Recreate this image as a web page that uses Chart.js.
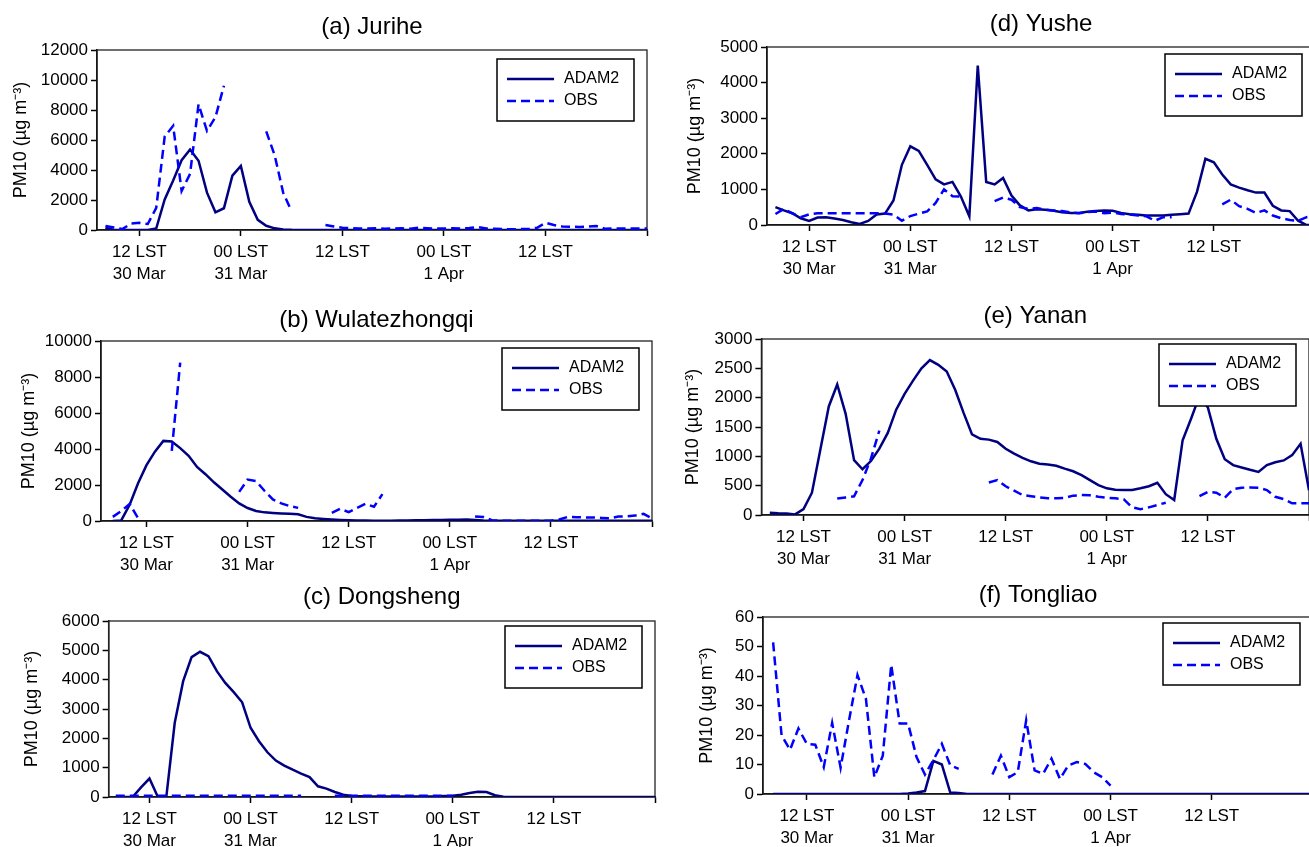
<!DOCTYPE html>
<html>
<head>
<meta charset="utf-8">
<title>PM10 ADAM2 vs OBS</title>
<script src="https://cdn.jsdelivr.net/npm/chart.js@4.4.1/dist/chart.umd.min.js"></script>
<style>
  html, body { margin: 0; padding: 0; background: #fff; overflow: hidden; }
  body { width: 1309px; height: 847px; position: relative; }
  .panel { position: absolute; }
</style>
</head>
<body>
<div class="panel" id="boxA"><canvas></canvas></div>
<div class="panel" id="boxB"><canvas></canvas></div>
<div class="panel" id="boxC"><canvas></canvas></div>
<div class="panel" id="boxD"><canvas></canvas></div>
<div class="panel" id="boxE"><canvas></canvas></div>
<div class="panel" id="boxF"><canvas></canvas></div>
<script>
// hours counted from 00 LST 30 Mar
const hours = [
  8, 9, 10, 11, 12, 13, 14, 15, 16, 17,
  18, 19, 20, 21, 22, 23, 24, 25, 26, 27,
  28, 29, 30, 31, 32, 33, 34, 35, 36, 37,
  38, 39, 40, 41, 42, 43, 44, 45, 46, 47,
  48, 49, 50, 51, 52, 53, 54, 55, 56, 57,
  58, 59, 60, 61, 62, 63, 64, 65, 66, 67,
  68, 69, 70, 71, 72
];
const xTicks = [12, 24, 36, 48, 60, 72];
const xTickLabels = [['12 LST', '30 Mar'], ['00 LST', '31 Mar'], '12 LST', ['00 LST', '1 Apr'], '12 LST', ''];

// (a) Jurihe
const jurihe_adam = [
  150, 0, 0, 0, 0, 0, 100, 2040, 3300, 4650,
  5370, 4620, 2490, 1180, 1450, 3620, 4270, 1880, 680, 280,
  110, 40, 10, 0, 0, 0, 0, 0, 0, 0,
  0, 0, 0, 0, 0, 0, 0, 0, 0, 0,
  0, 0, 0, 0, 0, 0, 0, 0, 0, 0,
  0, 0, 0, 0, 0, 0, 0, 0, 0, 0,
  0, 0, 0, 0, 0
];
const jurihe_obs = [
  270, 160, 60, 430, 480, 400, 1470, 6230, 6950, 2600,
  3740, 8380, 6610, 7520, 9620, null, null, null, null, 6570,
  4980, 2490, 1250, null, null, null, 340, 230, 150, 120,
  100, 100, 110, 90, 100, 110, 90, 150, 120, 100,
  100, 110, 100, 130, 200, 100, 80, 60, 50, 60,
  60, 150, 480, 330, 230, 220, 200, 220, 270, 90,
  100, 100, 100, 100, 100
];

// (b) Wulatezhongqi
const wula_adam = [
  0, 30, 900, 2100, 3100, 3850, 4450, 4420, 4050, 3620,
  3000, 2600, 2150, 1750, 1350, 980, 720, 560, 480, 450,
  420, 400, 370, 230, 150, 110, 80, 55, 40, 30,
  25, 20, 20, 20, 25, 30, 35, 40, 50, 60,
  70, 75, 80, 60, 30, 15, 10, 10, 10, 10,
  10, 10, 10, 10, 10, 10, 10, 10, 10, 10,
  10, 10, 10, 10, 10
];
const wula_obs = [
  230, 550, 950, 150, null, null, null, 3900, 8800, null,
  null, null, null, null, null, 1620, 2300, 2220, 1680, 1200,
  980, 830, 730, null, null, null, 450, 680, 490, 730,
  960, 790, 1490, null, null, null, null, null, null, null,
  null, null, null, 250, 220, 40, 20, 20, 20, 20,
  20, 20, 20, 80, 230, 210, 200, 200, 170, 150,
  250, 260, 300, 400, 140
];

// (c) Dongsheng
const dong_adam = [
  20, 0, 0, 330, 630, 0, 0, 2530, 3950, 4770,
  4950, 4800, 4290, 3890, 3575, 3230, 2360, 1900, 1525, 1240,
  1070, 930, 800, 680, 365, 285, 170, 80, 35, 25,
  20, 20, 20, 20, 20, 20, 20, 20, 20, 35,
  45, 80, 135, 180, 170, 60, 10, 0, 0, 0,
  0, 0, 0, 0, 0, 0, 0, 0, 0, 0,
  0, 0, 0, 0, 0
];
const dong_obs = [
  40, 40, 40, 40, 40, 40, 40, 40, 40, 40,
  40, 40, 40, 40, 40, 40, 40, 40, 40, 40,
  40, 40, 40, null, null, null, 40, 40, 40, 40,
  40, 40, 40, 40, 40, 40, 40, 40, 40, 40,
  40, null, null, null, null, null, null, null, null, null,
  null, null, null, null, null, null, null, null, null, null,
  null, null, null, null, null
];

// (d) Yushe
const yushe_adam = [
  500, 410, 330, 190, 115, 210, 220, 180, 140, 75,
  30, 115, 295, 320, 690, 1690, 2210, 2080, 1690, 1280,
  1140, 1210, 800, 245, 4480, 1210, 1140, 1320, 830, 550,
  410, 445, 425, 400, 360, 340, 340, 370, 390, 410,
  400, 340, 300, 285, 265, 265, 265, 285, 300, 320,
  930, 1860, 1760, 1420, 1140, 1050, 975, 910, 910, 540,
  410, 390, 120, 0, 0
];
const yushe_obs = [
  310, 450, 330, 220, 300, 330, 330, 330, 330, 330,
  330, 330, 330, 320, 290, 120, 250, 320, 380, 620,
  1000, 810, 800, null, null, null, 670, 770, 710, 500,
  455, 475, 435, 410, 390, 350, 330, 360, 380, 330,
  350, 310, 295, 265, 245, 120, 220, 220, null, null,
  null, null, null, 580, 710, 530, 455, 340, 410, 265,
  190, 140, 120, 220, 250
];

// (e) Yanan
const yanan_adam = [
  40, 30, 25, 10, 100, 380, 1115, 1850, 2225, 1725,
  935, 780, 920, 1130, 1400, 1795, 2065, 2290, 2500, 2640,
  2560, 2445, 2135, 1740, 1375, 1300, 1285, 1245, 1130, 1045,
  975, 915, 875, 860, 840, 790, 745, 680, 595, 510,
  455, 430, 425, 425, 455, 490, 550, 355, 255, 1275,
  1640, 2030, 1830, 1300, 950, 850, 810, 770, 735, 850,
  900, 930, 1020, 1215, 420
];
const yanan_obs = [
  null, null, null, null, null, null, null, null, 280, 300,
  320, 595, 960, 1440, null, null, null, null, null, null,
  null, null, null, null, null, null, 555, 595, 490, 415,
  340, 320, 300, 285, 285, 290, 330, 340, 335, 310,
  295, 285, 270, 130, 100, 130, 170, 210, null, null,
  null, 320, 395, 380, 295, 440, 465, 470, 465, 425,
  310, 270, 200, 200, 200
];

// (f) Tongliao
const tong_adam = [
  0, 0, 0, 0, 0, 0, 0, 0, 0, 0,
  0, 0, 0, 0, 0, 0, 0.2, 0.5, 1, 11.2,
  10, 0.5, 0.3, 0, 0, 0, 0, 0, 0, 0,
  0, 0, 0, 0, 0, 0, 0, 0, 0, 0,
  0, 0, 0, 0, 0, 0, 0, 0, 0, 0,
  0, 0, 0, 0, 0, 0, 0, 0, 0, 0,
  0, 0, 0, 0, 0
];
const tong_obs = [
  51.4, 19.9, 15, 22.2, 17, 16.7, 9.1, 24.1, 8.9, 25,
  40.3, 32.3, 5.7, 13, 43.8, 23.9, 23.9, 12.5, 6.6, 11.5,
  17, 9.7, 8.5, null, null, null, 6.6, 13, 5.7, 7.4,
  25, 8, 6.8, 12, 5.1, 9.7, 10.8, 10.2, 7.4, 5.7,
  2.8, null, null, null, null, null, null, null, null, null,
  null, null, null, null, null, null, null, null, null, null,
  null, null, null, null, null
];

const FONT = "'Liberation Sans', Arial, Helvetica, sans-serif";
Chart.defaults.font.family = FONT;
Chart.defaults.color = '#000';

// plot frame under the lines, boxed legend on top
const frameAndLegend = {
  id: 'frameAndLegend',
  beforeDatasetsDraw(chart) {
    const { ctx, chartArea: a } = chart;
    ctx.save();
    ctx.strokeStyle = '#222';
    ctx.lineWidth = 1.3;
    ctx.strokeRect(a.left, a.top, a.right - a.left, a.bottom - a.top);
    ctx.restore();
  },
  afterDraw(chart, args, opts) {
    const { ctx, chartArea: a } = chart;
    const w = 137, h = 62;
    const x0 = a.right - 13 - w, y0 = a.top + opts.top;
    ctx.save();
    ctx.fillStyle = '#fff';
    ctx.fillRect(x0, y0, w, h);
    ctx.strokeStyle = '#000';
    ctx.lineWidth = 1.5;
    ctx.strokeRect(x0, y0, w, h);
    ctx.font = '16px ' + FONT;
    ctx.textBaseline = 'middle';
    chart.data.datasets.forEach((ds, i) => {
      const yy = y0 + 20 + i * 22;
      ctx.beginPath();
      ctx.setLineDash(ds.borderDash || []);
      ctx.strokeStyle = ds.borderColor;
      ctx.lineWidth = ds.borderWidth;
      ctx.moveTo(x0 + 10, yy);
      ctx.lineTo(x0 + 57, yy);
      ctx.stroke();
      ctx.setLineDash([]);
      ctx.fillStyle = '#000';
      ctx.fillText(ds.label, x0 + 67, yy);
    });
    ctx.restore();
  }
};

function makePanel(p) {
  const box = document.getElementById(p.id);
  box.style.left = p.left + 'px';
  box.style.top = p.top + 'px';
  box.style.width = p.width + 'px';
  box.style.height = p.height + 'px';
  const axisGrid = { drawOnChartArea: false, drawTicks: true, tickLength: 6, tickColor: '#000', tickWidth: 1.5 };
  new Chart(box.querySelector('canvas'), {
    type: 'line',
    data: {
      labels: hours,
      datasets: [
        { label: 'ADAM2', data: p.adam, borderColor: '#000080', borderWidth: 2.5, pointRadius: 0, tension: 0, order: 1 },
        { label: 'OBS', data: p.obs, borderColor: '#0000ff', borderWidth: 2.5, borderDash: [9, 5], pointRadius: 0, tension: 0, order: 0 }
      ]
    },
    options: {
      responsive: true,
      maintainAspectRatio: false,
      animation: false,
      events: [],
      layout: { padding: { right: 4 } },
      plugins: {
        legend: { display: false },
        tooltip: { enabled: false },
        title: { display: true, text: p.title, fullSize: false, color: '#000',
          font: { size: 24, weight: 'normal' }, padding: { top: 0, bottom: p.titleGap } },
        frameAndLegend: { top: p.legendTop }
      },
      scales: {
        x: {
          type: 'linear', min: p.xmin, max: 72,
          afterBuildTicks: s => { s.ticks = xTicks.map(v => ({ value: v })); },
          afterFit: s => { s.height = p.xHeight; },
          ticks: { autoSkip: false, maxRotation: 0, padding: 5, font: { size: 17, lineHeight: 1.32 },
            callback: (v, i) => xTickLabels[i] },
          grid: axisGrid,
          border: { color: '#000', width: 1.5 }
        },
        y: {
          min: 0, max: p.ymax,
          afterFit: s => { s.width = p.yWidth; },
          ticks: { stepSize: p.ystep, padding: 3, font: { size: 17 }, callback: v => v },
          grid: axisGrid,
          border: { color: '#000', width: 1.5 },
          title: { display: true, text: 'PM10 (µg m⁻³)', font: { size: 18 }, padding: { top: p.yTitlePad, bottom: 0 } }
        }
      }
    },
    plugins: [frameAndLegend]
  });
}

makePanel({ id: 'boxA', title: '(a) Jurihe', adam: jurihe_adam, obs: jurihe_obs,
  left: 0, top: 13, width: 652, height: 277, yWidth: 97, yTitlePad: 10, titleGap: 8.2, xHeight: 60,
  xmin: 7, ymax: 12000, ystep: 2000, legendTop: 9 });
makePanel({ id: 'boxB', title: '(b) Wulatezhongqi', adam: wula_adam, obs: wula_obs,
  left: 0, top: 306, width: 657, height: 275, yWidth: 101, yTitlePad: 18, titleGap: 6.2, xHeight: 60,
  xmin: 6.6, ymax: 10000, ystep: 2000, legendTop: 7 });
makePanel({ id: 'boxC', title: '(c) Dongsheng', adam: dong_adam, obs: dong_obs,
  left: 0, top: 583, width: 660, height: 269, yWidth: 108.6, yTitlePad: 21, titleGap: 9.2, xHeight: 55,
  xmin: 7.15, ymax: 6000, ystep: 1000, legendTop: 5 });
makePanel({ id: 'boxD', title: '(d) Yushe', adam: yushe_adam, obs: yushe_obs,
  left: 670, top: 10, width: 650, height: 275, yWidth: 97, yTitlePad: 14, titleGap: 8.2, xHeight: 60,
  xmin: 7, ymax: 5000, ystep: 1000, legendTop: 7 });
makePanel({ id: 'boxE', title: '(e) Yanan', adam: yanan_adam, obs: yanan_obs,
  left: 670, top: 302, width: 644, height: 273, yWidth: 91.4, yTitlePad: 12, titleGap: 8.2, xHeight: 60,
  xmin: 7, ymax: 3000, ystep: 500, legendTop: 5 });
makePanel({ id: 'boxF', title: '(f) Tongliao', adam: tong_adam, obs: tong_obs,
  left: 680, top: 581, width: 638, height: 273, yWidth: 83, yTitlePad: 16, titleGap: 7.2, xHeight: 60,
  xmin: 6.8, ymax: 60, ystep: 10, legendTop: 6 });
</script>
</body>
</html>
